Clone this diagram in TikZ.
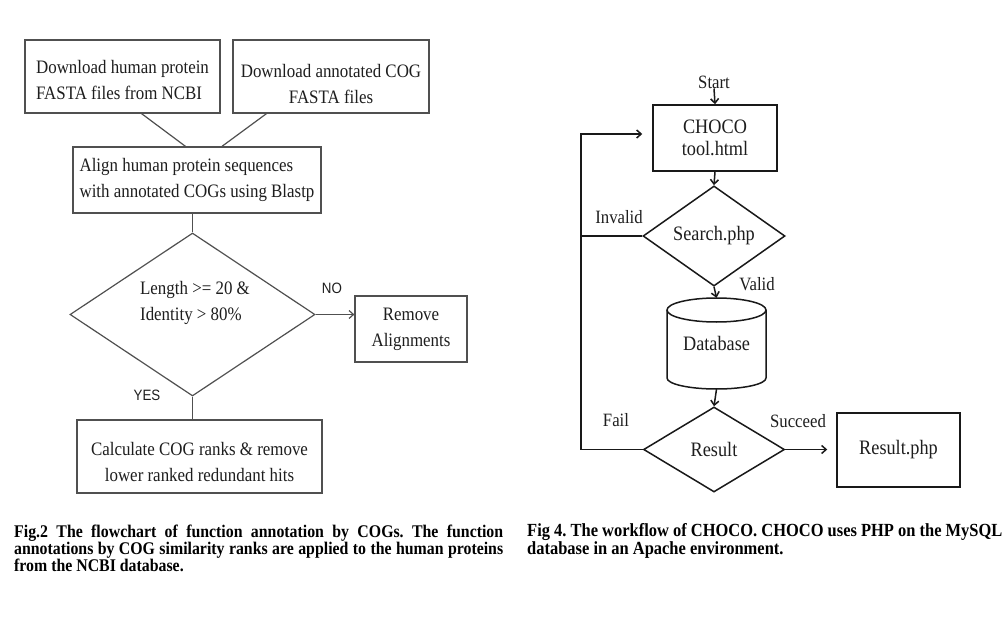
\documentclass[tikz,border=0pt]{standalone}
\usepackage{fontspec}
\setmainfont{Liberation Serif}[FakeStretch=0.89]
\newfontfamily\sansf{Liberation Sans}[FakeStretch=0.89]
\usetikzlibrary{shapes.geometric,arrows.meta,calc}
\definecolor{lcol}{HTML}{505050}
\definecolor{tcol}{HTML}{1E1E1E}
\frenchspacing
\begin{document}
\begin{tikzpicture}[x=1pt,y=-1pt,
  lline/.style={draw=lcol, line width=1.2pt},
  larr/.style={-{Straight Barb[length=4.5pt,width=8pt]}},
  lbox/.style={lline, inner sep=0pt, text=tcol, font=\fontsize{19}{26}\selectfont},
  ldia/.style={lline, shape=diamond, inner sep=0pt},
  ltext/.style={inner sep=0pt, text=tcol, font=\fontsize{19}{26}\selectfont},
  sanslab/.style={inner sep=0pt, text=tcol, font=\sansf\fontsize{15}{17}\selectfont},
  rline/.style={draw=black!90, line width=1.5pt},
  rarr/.style={-{Straight Barb[length=4.5pt,width=8pt]}},
  rbox/.style={rline, inner sep=0pt, text=tcol, font=\fontsize{20.5}{22}\selectfont},
  rdia/.style={rline, shape=diamond, inner sep=0pt, text=tcol, font=\fontsize{20.5}{22}\selectfont},
  rlab/.style={inner sep=0pt, text=tcol, font=\fontsize{18.8}{20}\selectfont},
  capt/.style={inner sep=0pt, text=black, anchor=north west, align=left}
]
\fill[white] (0,0) rectangle (1008,644);
\useasboundingbox (0,0) rectangle (1008,644);

% ---------- left flowchart ----------
\node[lbox, minimum width=195pt, minimum height=73pt] (A) at (122.5,76.5) {};
\node[ltext, align=left] (At) at (122.5,80) {Download human protein\\FASTA files from NCBI};
\node[lbox, minimum width=196pt, minimum height=73pt] (B) at (331,76.5) {};
\node[ltext, align=center] (Bt) at (331,84.5) {Download annotated COG\\FASTA files};
\node[lbox, minimum width=248pt, minimum height=66pt, align=left] (C) at (197,180) {Align human protein sequences\\with annotated COGs using Blastp};
\node[ldia, minimum width=245pt, minimum height=163pt] (Q) at (192.5,314.5) {};
\node[ltext, align=left] (Qt) at (195,303) {Length >= 20 \&\\Identity > 80\%};
\node[lbox, minimum width=112pt, minimum height=66pt, align=center] (R) at (411,329) {Remove\\Alignments};
\node[lbox, minimum width=245pt, minimum height=73pt] (D) at (199.5,456.5) {};
\node[ltext, align=center] (Dt) at (199.5,462) {Calculate COG ranks \& remove\\lower ranked redundant hits};
\node[sanslab] (no) at (332,288.5) {NO};
\node[sanslab] (yes) at (147,395) {YES};

\draw[lline] ($(A.south west)!0.597!(A.south east)$) -- ($(C.north west)!0.454!(C.north east)$);
\draw[lline] ($(B.south west)!0.173!(B.south east)$) -- ($(C.north west)!0.6!(C.north east)$);
\draw[lline] (C.south -| Q.north) -- (Q.north);
\draw[lline, larr] (Q.east) -- (Q.east -| R.west);
\draw[lline] (Q.south) -- (Q.south |- D.north);

% ---------- right flowchart ----------
\node[rlab] (start) at (714,82) {Start};
\node[rbox, minimum width=124pt, minimum height=66pt, align=center] (ch) at (715,138) {CHOCO\\tool.html};
\node[rdia, minimum width=142pt, minimum height=86pt] (se) at (714,236) {Search.php};
\node[inner sep=0pt, minimum width=99pt, minimum height=91pt, text=tcol, font=\fontsize{20.5}{22}\selectfont] (db) at (716.5,343.5) {Database};
\draw[rline] (716.5,310) ellipse [x radius=49.5pt, y radius=12pt];
\draw[rline] (667,310) -- (667,378) arc[start angle=180, end angle=360, x radius=49.5pt, y radius=11pt] -- (766,310);
\node[rdia, minimum width=141pt, minimum height=85pt] (rs) at (714,449.5) {Result};
\node[rbox, minimum width=123pt, minimum height=74pt] (rp) at (898.5,450) {Result.php};

\node[rlab] (inv) at (619,217) {Invalid};
\node[rlab] (val) at (757,284) {Valid};
\node[rlab] (fail) at (616,420) {Fail};
\node[rlab] (suc) at (798,421) {Succeed};

\coordinate (loop) at (581,134);
\draw[rline, rarr, shorten >=10pt] (se.west) -- (se.west -| loop) -- (loop) -- (loop -| ch.west);
\draw[rline] (rs.west) -- (rs.west -| loop) -- (se.west -| loop);
\draw[rline, rarr] (start.south) -- (ch.north);
\draw[rline, rarr] (ch.south) -- (se.north);
\draw[rline, rarr] (se.south) -- (db.north);
\draw[rline, rarr] (db.south) -- (rs.north);
\draw[rline, rarr, shorten >=9pt] (rs.east) -- (rs.east -| rp.west);

% ---------- captions ----------
\node[capt, font=\bfseries\fontsize{17.8}{15.5}\selectfont] (cap1) at (14,524.5) {%
\makebox[489pt][s]{Fig.2 The flowchart of function annotation by COGs. The function}\\
\makebox[489pt][s]{annotations by COG similarity ranks are applied to the human proteins}\\
from the NCBI database.};
\node[capt, font=\bfseries\fontsize{18.5}{14.5}\selectfont] (cap2) at (527,523) {%
Fig 4. The workflow of CHOCO. CHOCO uses PHP on the MySQL\\
database in an Apache environment.};
\end{tikzpicture}
\end{document}
